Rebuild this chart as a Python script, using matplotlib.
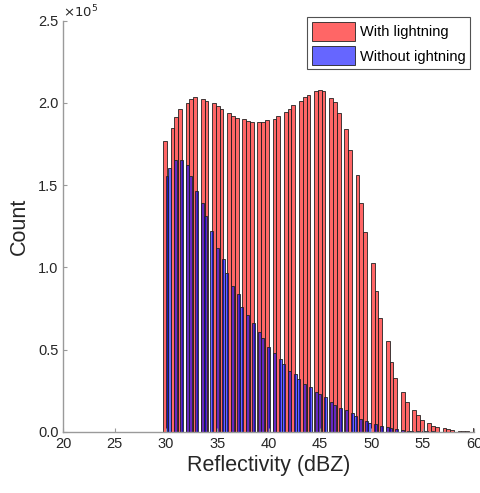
import numpy as np
import matplotlib.pyplot as plt
from matplotlib.patches import Patch

# reflectivity values (0.5 dBZ steps) and counts, in units of 1e5
refl = np.arange(30.0, 60.01, 0.5)
with_lightning = [1.770, 1.845, 1.912, 1.960, 2.001, 2.024, 2.036, 2.022, 2.013, 1.998,
                  1.979, 1.965, 1.937, 1.918, 1.906, 1.900, 1.888, 1.882, 1.882, 1.882,
                  1.894, 1.904, 1.918, 1.943, 1.965, 1.985, 2.010, 2.036, 2.050, 2.074,
                  2.077, 2.071, 2.028, 2.004, 1.937, 1.839, 1.713, 1.561, 1.393, 1.217,
                  1.028, 0.854, 0.690, 0.550, 0.422, 0.325, 0.241, 0.179, 0.130, 0.102,
                  0.071, 0.051, 0.037, 0.027, 0.021, 0.015, 0.010, 0.006, 0.004, 0.003,
                  0.020]
without_lightning = [1.555, 1.602, 1.653, 1.653, 1.622, 1.555, 1.466, 1.389, 1.312, 1.223,
                     1.119, 1.050, 0.963, 0.886, 0.836, 0.760, 0.710, 0.659, 0.605, 0.568,
                     0.517, 0.477, 0.440, 0.412, 0.369, 0.349, 0.321, 0.290, 0.272, 0.243,
                     0.229, 0.209, 0.182, 0.161, 0.142, 0.130, 0.112, 0.095, 0.077, 0.063,
                     0.055, 0.047, 0.035, 0.027, 0.021, 0.015, 0.010, 0.007, 0.005, 0.004,
                     0.003, 0.002, 0.0015, 0.001, 0.001, 0.0007, 0.0005, 0.0003, 0.0002,
                     0.0001, 0.0001]
labels = ['With lightning', 'Without ightning']

# histogram bins used by each series
red_start, red_width, red_n = 29.706, 0.368, 83
blue_start, blue_width, blue_n = 29.95, 0.2907, 104
red_edges = red_start + red_width * np.arange(red_n + 1)
blue_edges = blue_start + blue_width * np.arange(blue_n + 1)

plt.rcParams['font.family'] = ['Liberation Sans', 'DejaVu Sans']
fig = plt.figure(figsize=(4.8, 4.93), dpi=100)
ax = fig.add_axes([0.132, 0.1243, 0.8555, 0.8337])

red = (1, 0, 0, 0.6)
blue = (0, 0, 1, 0.6)
ax.hist(refl, bins=red_edges, weights=np.array(with_lightning) * 1e5,
        facecolor=red, edgecolor='#222222', linewidth=0.6)
ax.hist(refl, bins=blue_edges, weights=np.array(without_lightning) * 1e5,
        facecolor=blue, edgecolor='#222222', linewidth=0.6)

ax.set_xlim(20, 60)
ax.set_ylim(0, 2.5e5)
ax.set_xticks(np.arange(20, 61, 5))
yt = np.arange(0, 2.51e5, 0.5e5)
ax.set_yticks(yt)
ax.set_yticklabels(['%.1f' % (v / 1e5) for v in yt])
ax.text(0.0, 1.0, r'$\times10^5$', transform=ax.transAxes, fontsize=9.5,
        color='#262626', va='bottom', ha='left')

for s in ['top', 'right']:
    ax.spines[s].set_visible(False)
for s in ['left', 'bottom']:
    ax.spines[s].set_color('#9a9a9a')
    ax.spines[s].set_linewidth(1.0)
ax.tick_params(direction='in', length=3, width=0.8, color='#9a9a9a',
               labelsize=10.5, labelcolor='#262626')

ax.set_xlabel('Reflectivity (dBZ)', fontsize=15.5, color='#262626', labelpad=3)
ax.set_ylabel('Count', fontsize=15.5, color='#262626', labelpad=6)

handles = [Patch(facecolor=red, edgecolor='#222222', linewidth=0.6),
           Patch(facecolor=blue, edgecolor='#222222', linewidth=0.6)]
leg = ax.legend(handles, labels, loc='upper right', bbox_to_anchor=(0.99, 1.008),
                fontsize=10.5, frameon=True, fancybox=False, edgecolor='#262626',
                borderaxespad=0.0, handlelength=3.0, handleheight=1.6,
                handletextpad=0.3, labelspacing=0.4, borderpad=0.3)
leg.get_frame().set_linewidth(0.8)

fig.savefig('out.png', dpi=100)
